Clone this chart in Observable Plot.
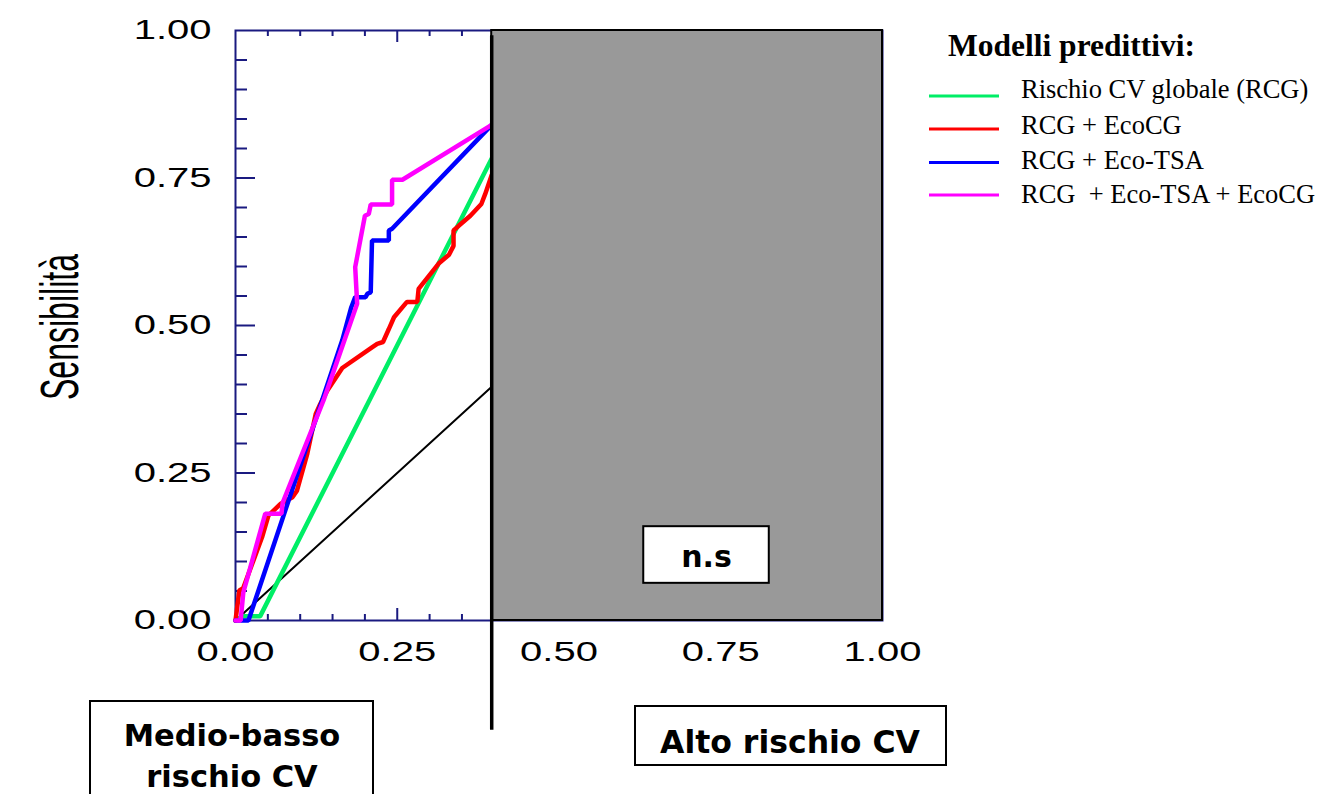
<!DOCTYPE html>
<html>
<head>
<meta charset="utf-8">
<script src="https://cdn.jsdelivr.net/npm/d3@7"></script>
<script src="https://cdn.jsdelivr.net/npm/@observablehq/plot@0.6"></script>
<style>
  html, body { margin: 0; padding: 0; background: #fff; }
  #chart { width: 1323px; height: 794px; overflow: hidden; }
  #chart svg text.pre { white-space: pre; }
</style>
</head>
<body>
<div id="chart"></div>
<script>
// ---------------- data ----------------
const tickValues = [0, 0.25, 0.5, 0.75, 1];
const tickLabels = ["0.00", "0.25", "0.50", "0.75", "1.00"];
const minorTicks = [0.05, 0.1, 0.15, 0.2, 0.3, 0.35, 0.4, 0.45, 0.55, 0.6, 0.65, 0.7, 0.8, 0.85, 0.9, 0.95];
const majorTicks = [0.25, 0.5, 0.75];
const cutoff = 0.396;            // soglia alto rischio
const yTitle = "Sensibilità";
const legendTitle = "Modelli predittivi:";
const seriesNames = ["Rischio CV globale (RCG)", "RCG + EcoCG", "RCG + Eco-TSA", "RCG  + Eco-TSA + EcoCG"];
const seriesColors = ["#00ee66", "#ff0000", "#0000ff", "#ff00ff"];

// ROC curves: [1 - specificity, sensitivity]
const rcgX = [0, 0.012, 0.038, 0.396];
const rcgY = [0, 0.007, 0.007, 0.783];
const ecoCgX = [0, 0.006, 0.012, 0.041, 0.051, 0.07, 0.088, 0.095, 0.111, 0.124, 0.131, 0.142, 0.165, 0.211, 0.219, 0.228, 0.237, 0.245, 0.265, 0.281, 0.283, 0.314, 0.33, 0.337, 0.337, 0.345, 0.363, 0.38, 0.386, 0.396];
const ecoCgY = [0, 0.051, 0.055, 0.141, 0.178, 0.198, 0.209, 0.22, 0.283, 0.35, 0.367, 0.39, 0.428, 0.463, 0.469, 0.472, 0.494, 0.514, 0.54, 0.54, 0.562, 0.605, 0.62, 0.635, 0.661, 0.669, 0.686, 0.706, 0.723, 0.755];
const tsaX = [0, 0.02, 0.165, 0.179, 0.185, 0.201, 0.204, 0.209, 0.211, 0.237, 0.237, 0.242, 0.396];
const tsaY = [0, 0, 0.475, 0.531, 0.548, 0.548, 0.554, 0.556, 0.644, 0.644, 0.661, 0.664, 0.84];
const allX = [0, 0.008, 0.012, 0.046, 0.071, 0.073, 0.136, 0.188, 0.185, 0.2, 0.206, 0.209, 0.242, 0.242, 0.258, 0.396];
const allY = [0, 0, 0.047, 0.181, 0.181, 0.2, 0.373, 0.537, 0.599, 0.686, 0.689, 0.705, 0.705, 0.747, 0.747, 0.84];
const diagX = [0, cutoff];
const diagY = [0, cutoff];

// annotations
const nsLabel = "n.s";
const nsBox = {x1: 0.631, x2: 0.825, y1: 0.063, y2: 0.159};
const lowRiskLines = ["Medio-basso", "rischio CV"];
const highRiskLabel = "Alto rischio CV";
const ruleTop = 0.991, ruleBottom = -0.186;

// ---------------- build ----------------
const series = [
  {name: seriesNames[0], color: seriesColors[0], xs: rcgX, ys: rcgY},
  {name: seriesNames[1], color: seriesColors[1], xs: ecoCgX, ys: ecoCgY},
  {name: seriesNames[2], color: seriesColors[2], xs: tsaX, ys: tsaY},
  {name: seriesNames[3], color: seriesColors[3], xs: allX, ys: allY}
];
const pts = s => s.xs.map((x, i) => ({x, y: s.ys[i]}));
const diag = diagX.map((x, i) => ({x, y: diagY[i]}));

const W = 1323, H = 794;
const mL = 235, mR = 441, mT = 30, mB = 174;
const pw = W - mL - mR, ph = H - mT - mB;
const navy = "#1a1a80";

const plot = Plot.plot({
  width: W, height: H,
  marginLeft: mL, marginRight: mR, marginTop: mT, marginBottom: mB,
  x: {domain: [0, 1], label: null},
  y: {domain: [0, 1], label: null},
  style: {background: "white", overflow: "visible"},
  marks: [
    Plot.frame({stroke: navy, strokeWidth: 2}),
    // ticks (inward)
    Plot.tickY(minorTicks, {y: d => d, stroke: navy, strokeWidth: 2, insetRight: pw - 12}),
    Plot.tickY(majorTicks, {y: d => d, stroke: navy, strokeWidth: 2, insetRight: pw - 20}),
    Plot.tickX(minorTicks, {x: d => d, stroke: navy, strokeWidth: 2, insetBottom: ph - 6}),
    Plot.tickX(majorTicks, {x: d => d, stroke: navy, strokeWidth: 2, insetBottom: ph - 12}),
    Plot.tickX(minorTicks, {x: d => d, stroke: navy, strokeWidth: 2, insetTop: ph - 6}),
    Plot.tickX(majorTicks, {x: d => d, stroke: navy, strokeWidth: 2, insetTop: ph - 12}),
    Plot.axisY({ticks: tickValues, tickFormat: (d, i) => tickLabels[i], tickSize: 0, tickPadding: 24,
      fontSize: 27, fontFamily: "Liberation Sans", fill: "black", label: null}),
    Plot.axisX({ticks: tickValues, tickFormat: (d, i) => tickLabels[i], tickSize: 0, tickPadding: 21,
      fontSize: 27, fontFamily: "Liberation Sans", fill: "black", label: null}),
    // reference diagonal
    Plot.line(diag, {x: "x", y: "y", stroke: "black", strokeWidth: 2}),
    // ROC curves
    ...series.map(s => Plot.line(pts(s), {x: "x", y: "y", stroke: s.color, strokeWidth: 4.5, strokeLinejoin: "miter"})),
    // high-risk region
    Plot.rect([{x1: cutoff, x2: 1, y1: 0, y2: 1}], {x1: "x1", x2: "x2", y1: "y1", y2: "y2", fill: "#999999", stroke: "black", strokeWidth: 2}),
    Plot.rect([nsBox], {x1: "x1", x2: "x2", y1: "y1", y2: "y2", fill: "white", stroke: "black", strokeWidth: 2}),
    Plot.text([nsLabel], {x: (nsBox.x1 + nsBox.x2) / 2, y: (nsBox.y1 + nsBox.y2) / 2, text: d => d, dy: 2,
      fontSize: 30, fontWeight: "bold", fontFamily: "DejaVu Sans", fill: "black"}),
    Plot.ruleX([cutoff], {x: d => d, y1: ruleTop, y2: ruleBottom, stroke: "black", strokeWidth: 3.5})
  ]
});

document.getElementById("chart").appendChild(plot);
const svg = d3.select(plot);

// stretch the tick labels horizontally like in the original
svg.selectAll('g[aria-label="y-axis tick label"] text, g[aria-label="x-axis tick label"] text').each(function() {
  const w = this.getComputedTextLength();
  this.setAttribute("textLength", (w * 1.48).toFixed(1));
  this.setAttribute("lengthAdjust", "spacingAndGlyphs");
});

// y title
svg.append("text")
  .attr("transform", "translate(78,327) rotate(-90)")
  .attr("text-anchor", "middle")
  .attr("font-family", "Liberation Sans")
  .attr("font-size", 53)
  .attr("fill", "black")
  .attr("textLength", 146)
  .attr("lengthAdjust", "spacingAndGlyphs")
  .text(yTitle);

// legend
const lg = svg.append("g").attr("text-anchor", "start");
lg.append("text").attr("x", 948).attr("y", 56).attr("text-anchor", "start")
  .attr("font-family", "Liberation Serif").attr("font-weight", "bold").attr("font-size", 31.5)
  .attr("fill", "black").text(legendTitle);
const lineYs = [96, 129, 162.5, 195];
const textYs = [98, 134, 169, 203];
series.forEach((s, i) => {
  lg.append("line").attr("x1", 929).attr("x2", 999).attr("y1", lineYs[i]).attr("y2", lineYs[i])
    .attr("stroke", s.color).attr("stroke-width", 3);
  lg.append("text").attr("class", "pre").attr("x", 1021).attr("y", textYs[i]).attr("text-anchor", "start")
    .attr("font-family", "Liberation Serif").attr("font-size", 26.5).attr("fill", "black")
    .text(s.name);
});

// bottom boxes
const bx = svg.append("g");
bx.append("rect").attr("x", 90).attr("y", 701).attr("width", 283).attr("height", 120)
  .attr("fill", "white").attr("stroke", "black").attr("stroke-width", 2);
lowRiskLines.forEach((t, i) => {
  bx.append("text").attr("x", 232).attr("y", 746 + i * 41).attr("text-anchor", "middle")
    .attr("font-family", "DejaVu Sans").attr("font-weight", "bold").attr("font-size", 30.5)
    .attr("fill", "black").text(t);
});
bx.append("rect").attr("x", 635).attr("y", 706).attr("width", 311).attr("height", 59)
  .attr("fill", "white").attr("stroke", "black").attr("stroke-width", 2);
bx.append("text").attr("x", 790).attr("y", 753).attr("text-anchor", "middle")
  .attr("font-family", "DejaVu Sans").attr("font-weight", "bold").attr("font-size", 31.5)
  .attr("fill", "black").text(highRiskLabel);
</script>
</body>
</html>
